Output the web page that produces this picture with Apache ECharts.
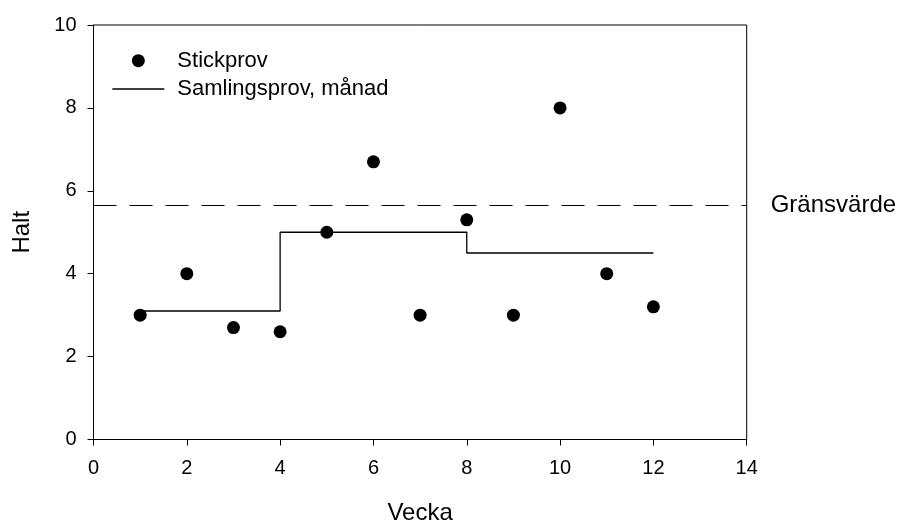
<!DOCTYPE html>
<html>
<head>
<meta charset="utf-8">
<script src="https://cdn.jsdelivr.net/npm/echarts@6/dist/echarts.min.js"></script>
<style>
html,body{margin:0;padding:0;background:#fff;}
#c{width:899px;height:523px;}
</style>
</head>
<body>
<div id="c"></div>
<script>
// Data
var weeks = [1, 2, 3, 4, 5, 6, 7, 8, 9, 10, 11, 12];
var stickprov = [3.0, 4.0, 2.7, 2.6, 5.0, 6.7, 3.0, 5.3, 3.0, 8.0, 4.0, 3.2];
var periodBreaks = [1, 4, 8, 12];
var samlingsprov = [3.1, 5.0, 4.5];
var gransvarde = 5.65;
var xTicks = [0, 2, 4, 6, 8, 10, 12, 14];
var yTicks = [0, 2, 4, 6, 8, 10];

var FONT = "'Liberation Sans', Arial, sans-serif";

var scatterData = weeks.map(function (w, i) { return [w, stickprov[i]]; });
var stepData = [];
for (var i = 0; i < samlingsprov.length; i++) {
  stepData.push([periodBreaks[i], samlingsprov[i]]);
  stepData.push([periodBreaks[i + 1], samlingsprov[i]]);
}

var chart = echarts.init(document.getElementById('c'), null, {renderer: 'canvas'});
chart.setOption({
  animation: false,
  backgroundColor: '#fff',
  textStyle: {fontFamily: FONT, color: '#000'},
  grid: {
    left: 93.5, right: 152.3, top: 25, bottom: 83.5,
    containLabel: false,
    outerBoundsMode: 'none',
    show: true, borderColor: '#000', borderWidth: 1, backgroundColor: 'transparent'
  },
  legend: {
    orient: 'vertical',
    left: 111.7,
    top: 49.7,
    padding: 0,
    itemWidth: 52,
    itemHeight: 13,
    itemGap: 6.3,
    textStyle: {fontFamily: FONT, fontSize: 22, color: '#000', lineHeight: 22, padding: [0, 0, 0, 8]},
    data: [
      {name: 'Stickprov', icon: 'circle', itemStyle: {color: '#000', opacity: 1}},
      {name: 'Samlingsprov, månad', itemStyle: {opacity: 0}, lineStyle: {color: '#000', width: 1.3, opacity: 1}}
    ]
  },
  xAxis: {
    type: 'value',
    min: xTicks[0], max: xTicks[xTicks.length - 1], interval: 2,
    name: 'Vecka',
    nameLocation: 'middle',
    nameGap: 62,
    nameTextStyle: {fontFamily: FONT, fontSize: 24, color: '#000'},
    axisLine: {show: true, lineStyle: {color: '#000', width: 1}},
    axisTick: {show: true, length: 6, lineStyle: {color: '#000', width: 1}},
    axisLabel: {fontFamily: FONT, fontSize: 20, color: '#000', margin: 19},
    splitLine: {show: false}
  },
  yAxis: {
    type: 'value',
    min: yTicks[0], max: yTicks[yTicks.length - 1], interval: 2,
    name: 'Halt',
    nameLocation: 'middle',
    nameGap: 59,
    nameRotate: 90,
    nameTextStyle: {fontFamily: FONT, fontSize: 24, color: '#000'},
    axisLine: {show: true, lineStyle: {color: '#000', width: 1}},
    axisTick: {show: true, length: 6, lineStyle: {color: '#000', width: 1}},
    axisLabel: {fontFamily: FONT, fontSize: 20, color: '#000', margin: 17},
    splitLine: {show: false}
  },
  series: [
    {
      name: 'Samlingsprov, månad',
      type: 'line',
      data: stepData,
      symbol: 'none',
      showSymbol: false,
      lineStyle: {color: '#000', width: 1.3},
      itemStyle: {color: '#000'},
      z: 2
    },
    {
      name: 'Stickprov',
      type: 'scatter',
      data: scatterData,
      symbol: 'circle',
      symbolSize: 13,
      itemStyle: {color: '#000', opacity: 1},
      z: 3,
      markLine: {
        silent: true,
        symbol: ['none', 'none'],
        lineStyle: {color: '#000', width: 1.2, type: [23, 13], opacity: 1},
        label: {
          show: true, position: 'end', distance: 24,
          formatter: 'Gränsvärde',
          fontFamily: FONT, fontSize: 24, color: '#000'
        },
        data: [{yAxis: gransvarde}]
      }
    }
  ]
});
</script>
</body>
</html>
